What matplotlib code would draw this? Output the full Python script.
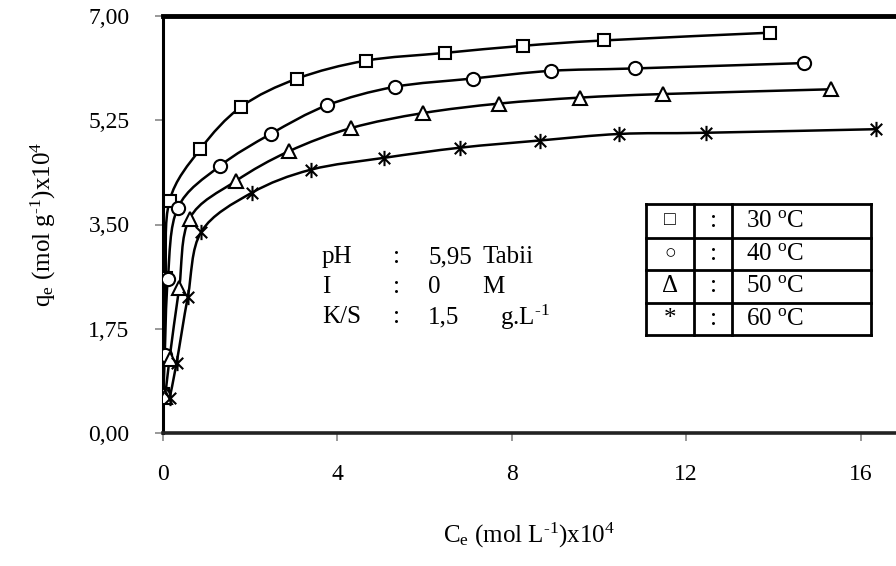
import numpy as np
import matplotlib
matplotlib.use("Agg")
import matplotlib.pyplot as plt
from matplotlib.path import Path
from matplotlib.patches import PathPatch
from matplotlib.lines import Line2D

plt.rcParams['font.family'] = ['Liberation Serif', 'DejaVu Serif']
plt.rcParams['mathtext.fontset'] = 'custom'
plt.rcParams['mathtext.rm'] = 'Liberation Serif'
plt.rcParams['mathtext.it'] = 'Liberation Serif:italic'

# Ce (mol/L x10^4) and qe (mol/g x10^4) for each temperature
x30 = [0.00, 0.02, 0.06, 0.15, 0.86, 1.80, 3.08, 4.65, 6.46, 8.26, 10.11, 13.93]
y30 = [0.66, 1.30, 2.60, 3.90, 4.77, 5.48, 5.95, 6.25, 6.38, 6.50, 6.59, 6.72]

x40 = [0.01, 0.04, 0.11, 0.34, 1.30, 2.47, 3.76, 5.31, 7.10, 8.91, 10.83, 14.70]
y40 = [0.64, 1.31, 2.58, 3.78, 4.48, 5.02, 5.50, 5.81, 5.95, 6.08, 6.12, 6.21]

x50 = [0.05, 0.15, 0.37, 0.61, 1.67, 2.89, 4.32, 5.96, 7.71, 9.56, 11.47, 15.33]
y50 = [0.60, 1.25, 2.43, 3.60, 4.23, 4.73, 5.12, 5.37, 5.53, 5.63, 5.69, 5.77]

x60 = [0.15, 0.31, 0.57, 0.88, 2.03, 3.39, 5.08, 6.82, 8.64, 10.47, 12.45, 16.36]
y60 = [0.58, 1.17, 2.29, 3.38, 4.03, 4.42, 4.62, 4.79, 4.91, 5.02, 5.04, 5.10]

temps = ['30', '40', '50', '60']
table_symbols = ['\u25a1', '\u25cb', '\u0394', '*']

yticks = [0, 1.75, 3.5, 5.25, 7.0]
ytick_labels = ['0,00', '1,75', '3,50', '5,25', '7,00']
xticks = [0, 4, 8, 12, 16]

W, H = 896, 566
fig = plt.figure(figsize=(W / 100, H / 100), dpi=100)
ax = fig.add_axes([163 / W, 1 - 433 / H, 1 - 163 / W, (433 - 16) / H])


def smooth_path(xs, ys):
    # cubic bezier through the points (Catmull-Rom style tangents)
    p = np.column_stack([xs, ys])
    n = len(p)
    verts = [p[0]]
    codes = [Path.MOVETO]
    for i in range(n - 1):
        p0 = p[i - 1] if i > 0 else p[i]
        p3 = p[i + 2] if i + 2 < n else p[i + 1]
        c1 = p[i] + (p[i + 1] - p0) / 6
        c2 = p[i + 1] - (p3 - p[i]) / 6
        verts += [c1, c2, p[i + 1]]
        codes += [Path.CURVE4] * 3
    return Path(verts, codes)


star = Path([(0, -1), (0, 1), (-0.75, -0.75), (0.75, 0.75), (-0.75, 0.75), (0.75, -0.75)],
            [Path.MOVETO, Path.LINETO, Path.MOVETO, Path.LINETO, Path.MOVETO, Path.LINETO])

series = [(x30, y30, 's', 8), (x40, y40, 'o', 9.5), (x50, y50, '^', 9.5), (x60, y60, star, 11)]
for xs, ys, m, ms in series:
    ax.add_patch(PathPatch(smooth_path(xs, ys), fill=False, lw=1.8, color='black', zorder=2))
    ax.plot(xs, ys, ls='none', marker=m, ms=ms, mfc='white' if m != star else 'none',
            mec='black', mew=1.5, zorder=3)

ax.set_xlim(0, (W - 163) / 43.6)
ax.set_ylim(0, 7)
ax.set_yticks(yticks)
ax.set_yticklabels(ytick_labels)
ax.set_xticks(xticks)
ax.tick_params(direction='out', length=6, width=1.2, color='#888888', labelsize=17, pad=18)
ax.tick_params(axis='x', pad=16)
ax.spines['right'].set_visible(False)
ax.spines['left'].set_linewidth(2.2)
ax.spines['bottom'].set_linewidth(2.6)
ax.spines['bottom'].set_edgecolor('#222222')
ax.spines['top'].set_linewidth(3.5)

ax.set_ylabel('q$_{\\mathrm{e}}$ (mol g$^{\\mathrm{\u20101}}$)x10$^{\\mathrm{4}}$', fontsize=18, labelpad=22)
ax.set_xlabel('C$_{\\mathrm{e}}$ (mol L$^{\\mathrm{\u20101}}$)x10$^{\\mathrm{4}}$', fontsize=18, labelpad=26)

# experimental conditions
cond = [('pH', '5,95', 'Tabii'), ('I', '0', 'M'), ('K/S', '1,5', 'g.L$^{\\mathrm{\u20101}}$')]
for i, (name, val, unit) in enumerate(cond):
    yy = 1 - (257 + 30 * i) / H
    fig.text(322 / W, yy, name, fontsize=18, va='center')
    fig.text(393 / W, yy, ':', fontsize=18, va='center')
    fig.text(428 / W, yy, val, fontsize=18, va='center')
    fig.text(482 / W if i < 2 else 500 / W, yy, unit, fontsize=18, va='center')

# legend table
rows = [204, 237.5, 270, 302.5, 335]
cols = [646, 694, 732, 871]
for r in rows:
    fig.add_artist(Line2D([cols[0] / W, cols[-1] / W], [1 - r / H, 1 - r / H], color='black', lw=2))
for c in cols:
    fig.add_artist(Line2D([c / W, c / W], [1 - rows[0] / H, 1 - rows[-1] / H], color='black', lw=2))
for i, (sym, t) in enumerate(zip(table_symbols, temps)):
    yy = 1 - (rows[i] + rows[i + 1]) / 2 / H
    fig.text(670 / W, yy, sym, fontsize=14 if i < 2 else 18, ha='center', va='center',
             family=['Liberation Serif', 'DejaVu Sans'])
    fig.text(713 / W, yy, ':', fontsize=18, ha='center', va='center')
    fig.text(746 / W, yy, t + ' $^{\\mathrm{o}}$C', fontsize=18, va='center')

fig.savefig('out.png', dpi=100)
